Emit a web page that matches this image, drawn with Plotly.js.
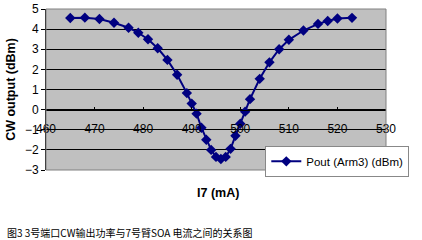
<!DOCTYPE html>
<html><head><meta charset="utf-8">
<script src="https://cdn.plot.ly/plotly-3.0.1.min.js"></script>
<style>body{margin:0;background:#fff}#c{width:422px;height:240px}</style>
</head><body><div id="c"></div>
<script>
var currentI7 = [465,468,471,474,477,479,481,483,485,487,489,490,491,492,493,494,495,496,497,498,499,500,501,502,504,506,508,510,513,516,518,520,523];
var poutArm3 = [4.55,4.57,4.5,4.32,4.07,3.82,3.5,3.05,2.47,1.73,0.82,0.3,-0.2,-0.9,-1.5,-2.0,-2.35,-2.45,-2.35,-1.95,-1.3,-0.7,-0.1,0.52,1.53,2.35,3.0,3.47,3.93,4.26,4.4,4.53,4.56];
var seriesName = 'Pout (Arm3) (dBm)';
var xTitle = 'I7 (mA)';
var yTitle = 'CW output (dBm)';
var caption = '图3 3号端口CW输出功率与7号臂SOA 电流之间的关系图';

var trace = {x: currentI7, y: poutArm3, name: seriesName, type: 'scatter', mode: 'lines+markers',
  line: {color: '#000080', width: 2}, marker: {symbol: 'diamond', size: 8, color: '#000080'}};
var f = 'Liberation Sans, Arial, sans-serif';
var layout = {
  width: 422, height: 240,
  margin: {l: 46, r: 36, t: 9, b: 70},
  paper_bgcolor: '#ffffff', plot_bgcolor: '#c0c0c0',
  font: {family: f, size: 11, color: '#000'},
  showlegend: true,
  legend: {x: 0.645, y: 0.15, xanchor: 'left', yanchor: 'top', bgcolor: '#fff', bordercolor: '#888', borderwidth: 1,
    font: {size: 11.5, family: f}},
  xaxis: {range: [460, 530], dtick: 10, tick0: 460, anchor: 'free', position: 0.375, showgrid: false, zeroline: false,
    showline: true, linecolor: '#000', linewidth: 1, ticks: 'inside', ticklen: 3, tickcolor: '#000',
    ticklabelstandoff: 8, tickfont: {size: 12}},
  yaxis: {range: [-3, 5], dtick: 1, showgrid: true, gridcolor: '#000', gridwidth: 1, zeroline: false,
    showline: true, linecolor: '#000', ticks: 'outside', ticklen: 4, tickcolor: '#000', tickfont: {size: 12},
    title: {text: yTitle, font: {size: 12.5, family: f, weight: 'bold'}, standoff: 6}},
  shapes: [{type: 'rect', xref: 'paper', yref: 'paper', x0: 0, x1: 1, y0: 0, y1: 1, line: {color: '#808080', width: 1}}],
  annotations: [
    {text: '<b>' + xTitle + '</b>', xref: 'paper', yref: 'paper', x: 0.505, y: -0.143, yanchor: 'middle', showarrow: false, font: {size: 12.5}},
    {text: caption, xref: 'paper', yref: 'paper', x: -0.122, y: -0.33, xanchor: 'left', yanchor: 'top', showarrow: false,
      font: {size: 10, family: 'Noto Sans CJK SC, sans-serif'}}
  ]
};
Plotly.newPlot('c', [trace], layout, {displayModeBar: false, staticPlot: true});
</script></body></html>
